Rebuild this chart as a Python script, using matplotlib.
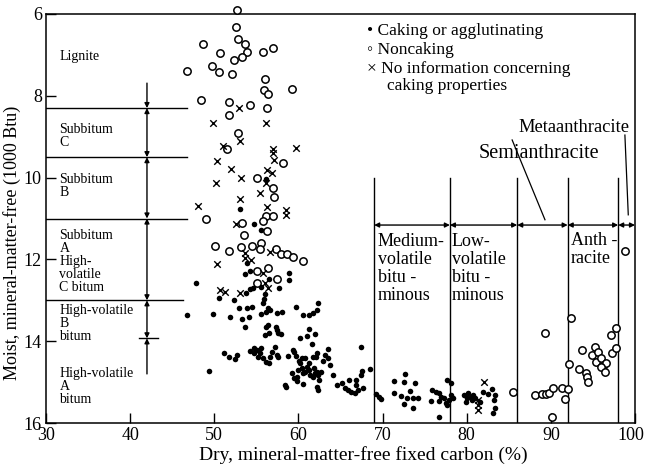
import matplotlib
matplotlib.use("Agg")
import matplotlib.pyplot as plt
from matplotlib.transforms import ScaledTranslation

plt.rcParams['font.family'] = ['Liberation Serif', 'DejaVu Serif', 'DejaVu Sans']

# ---------------- data ----------------
noncaking_x = [52.7, 52.6, 48.7, 52.8, 53.7, 50.7, 53.9, 53.3, 52.4, 55.8, 57.0, 46.8, 49.7, 50.6, 52.1,
               56.0, 55.9, 56.4, 59.2, 48.4, 51.8, 51.8, 54.2, 56.3, 52.8, 51.5, 58.2, 55.1, 57.0, 57.1,
               56.2, 57.0, 55.8, 49.0, 53.3, 53.5, 56.3, 50.1, 51.8, 53.2, 54.5, 55.5, 55.4, 57.3, 57.9,
               58.7, 59.4, 60.5, 55.1, 56.4, 57.5, 55.1,
               85.5, 88.1, 88.9, 89.4, 89.8, 90.3, 91.3, 92.0, 91.7, 90.1, 89.3, 92.4, 92.2, 93.7, 93.3,
               94.2, 94.3, 94.4, 95.2, 94.9, 95.6, 95.4, 95.9, 96.2, 96.5, 96.0, 96.4, 97.1, 97.8, 97.3,
               97.7, 98.8]
noncaking_y = [5.89, 6.33, 6.74, 6.62, 6.74, 6.96, 6.94, 7.04, 7.12, 6.94, 6.82, 7.39, 7.26, 7.41, 7.47,
               7.60, 7.86, 7.96, 7.84, 8.10, 8.16, 8.46, 8.23, 8.29, 8.92, 9.31, 9.64, 10.02, 10.26, 10.47,
               10.94, 10.94, 11.06, 11.02, 11.12, 11.40, 11.30, 11.67, 11.79, 11.69, 11.67, 11.61, 11.75, 11.74, 11.88,
               11.88, 11.94, 12.03, 12.28, 12.22, 12.49, 12.57,
               15.23, 15.32, 15.30, 15.30, 15.27, 15.15, 15.15, 15.18, 15.41, 15.85, 13.81, 13.44, 14.56, 14.22, 14.69,
               14.78, 14.88, 14.99, 14.15, 14.34, 14.26, 14.50, 14.42, 14.61, 14.53, 14.64, 14.75, 13.85, 13.68, 14.28,
               14.17, 11.79]

noinfo_x = [52.9, 49.8, 56.2, 53.0, 51.0, 57.0, 57.0, 57.1, 59.7, 50.3, 52.0, 53.2, 56.3, 56.8, 56.2,
            50.2, 55.4, 53.1, 48.1, 56.3, 58.5, 58.5, 52.6, 56.6, 53.7, 53.6, 54.4, 50.3, 55.8, 56.0,
            56.4, 50.7, 51.3, 53.1, 82.1, 81.3, 81.3, 81.3]
noinfo_y = [8.31, 8.67, 8.67, 9.10, 9.23, 9.31, 9.41, 9.57, 9.27, 9.59, 9.80, 10.00, 9.81, 9.89, 10.14,
            10.12, 10.37, 10.53, 10.69, 10.71, 10.79, 10.91, 11.13, 11.83, 11.85, 11.97, 12.01, 12.12, 12.33, 12.57,
            12.71, 12.75, 12.79, 12.83, 14.99, 15.44, 15.56, 15.68]

caking_x = [56.1, 53.0, 54.7, 55.6, 53.9, 54.3, 53.6, 58.9, 58.9, 47.8, 56.5, 55.6, 54.6, 54.3, 57.7,
            53.8, 50.6, 52.4, 56.0, 55.9, 55.8, 46.8, 49.9, 51.9, 52.9, 53.9, 54.5, 56.4, 56.6, 56.2,
            55.6, 57.4, 58.1, 59.7, 60.5, 61.2, 61.7, 62.2, 62.3, 53.3, 54.1, 53.6, 56.2, 56.4, 57.3,
            56.0, 56.5, 57.4, 57.6, 57.9, 60.2, 61.3, 61.0, 62.0, 61.6, 63.5, 51.1, 51.8, 52.5, 52.7,
            54.3, 54.7, 55.1, 55.4, 55.2, 55.8, 56.2, 56.5, 55.6, 54.7, 56.8, 57.4, 57.2, 57.6, 56.6,
            58.8, 59.5, 59.7, 59.4, 49.4, 60.1, 60.4, 60.8, 61.3, 61.7, 62.2, 62.1, 59.2, 59.5, 59.8,
            60.0, 60.4, 60.6, 60.8, 61.0, 61.3, 61.4, 61.7, 61.8, 62.2, 62.2, 60.5, 59.8, 58.5, 58.4,
            63.1, 62.9, 63.5, 63.8, 60.2, 62.0, 62.3, 62.7, 62.5, 62.3, 64.1, 64.6, 65.2, 65.5, 65.9,
            66.0, 66.3, 66.7, 67.1, 67.5, 67.4, 66.9, 66.9, 67.7, 68.5, 67.4,
            69.2, 69.6, 69.8, 71.3, 72.7, 72.6, 73.9, 71.4, 72.2, 73.3, 72.9, 73.6, 74.2, 72.6, 73.6,
            75.9, 76.3, 76.7, 76.9, 76.7, 75.8, 77.3, 77.5, 77.7, 77.9, 78.4, 78.1, 77.7, 78.1, 76.7,
            79.7, 79.9, 80.2, 80.0, 80.5, 80.8, 81.0, 80.6, 81.6, 81.9, 82.5, 83.0, 83.4, 83.3, 83.4, 83.1]
caking_y = [10.04, 10.77, 11.13, 11.28, 12.10, 12.28, 12.36, 12.33, 12.50, 12.58, 12.49, 12.67, 12.71, 12.72, 12.69,
            12.83, 12.94, 12.99, 12.85, 12.97, 13.07, 13.36, 13.34, 13.42, 13.18, 13.20, 13.17, 13.20, 13.24, 13.28,
            13.34, 13.32, 13.28, 13.16, 13.36, 13.36, 13.32, 13.24, 13.07, 13.46, 13.40, 13.65, 13.66, 13.60, 13.66,
            13.85, 13.81, 13.73, 13.81, 13.82, 13.93, 13.71, 13.87, 13.82, 14.07, 14.19, 14.28, 14.39, 14.44, 14.34,
            14.23, 14.17, 14.22, 14.30, 14.38, 14.42, 14.50, 14.53, 14.17, 14.30, 14.26, 14.34, 14.13, 14.39, 14.38,
            14.36, 14.26, 14.36, 14.22, 14.73, 14.48, 14.42, 14.42, 14.53, 14.39, 14.30, 14.38, 14.78, 14.91, 14.87,
            14.70, 14.66, 14.78, 14.75, 14.62, 14.70, 14.83, 14.87, 14.66, 14.75, 15.11, 15.05, 14.97, 15.11, 15.07,
            14.34, 14.48, 14.42, 14.57, 14.54, 14.78, 14.83, 14.75, 14.95, 15.19, 14.83, 15.07, 15.03, 15.15, 15.19,
            14.95, 15.23, 15.27, 15.19, 14.72, 14.83, 14.95, 15.07, 15.15, 14.69, 14.13,
            15.29, 15.36, 15.41, 14.97, 14.81, 14.99, 15.01, 15.26, 15.33, 15.22, 15.40, 15.40, 15.40, 15.54, 15.64,
            15.19, 15.23, 15.27, 15.36, 15.45, 15.45, 15.40, 15.50, 15.56, 15.44, 15.40, 15.32, 14.95, 15.03, 15.86,
            15.32, 15.48, 15.27, 15.40, 15.36, 15.32, 15.40, 15.44, 15.48, 15.23, 15.29, 15.18, 15.32, 15.44, 15.64, 15.75]

# rank boundaries
btu_bounds = [8.3, 9.5, 11.0, 13.0]          # horizontal rank lines (1000 Btu)
hva_bound = 13.93                             # hvB / hvA tick
fc_bounds = [69, 78, 86, 92, 98, 100]         # fixed-carbon boundaries (%)

left_labels = ["Lignite", "Subbitum\nC", "Subbitum\nB",
               "Subbitum\nA\nHigh-\nvolatile\nC bitum",
               "High-volatile\nB\nbitum", "High-volatile\nA\nbitum"]
left_label_y = [7.05, 8.98, 10.2, 12.04, 13.56, 15.1]

fc_labels = ["Medium-\nvolatile\nbitu -\nminous", "Low-\nvolatile\nbitu -\nminous", "Anth -\nracite"]
fc_label_x = [69.45, 78.25, 92.4]
fc_label_y = [12.22, 12.22, 11.76]

legend_lines = ["\u2022 Caking or agglutinating", "\u25e6 Noncaking",
                "\u00d7 No information concerning", "caking properties"]

xticks = [30, 40, 50, 60, 70, 80, 90, 100]
yticks = [6, 8, 10, 12, 14, 16]

# ---------------- figure ----------------
fig = plt.figure(figsize=(6.45, 4.65), dpi=100)
ax = fig.add_axes([46 / 645, 42 / 465, 589 / 645, 409 / 465])
ax.set_xlim(30, 100)
ax.set_ylim(16, 6)

ax.scatter(caking_x, caking_y, s=16, c='black', marker='o', linewidths=0, clip_on=False, zorder=3)
ax.scatter(noncaking_x, noncaking_y, s=28, facecolors='white', edgecolors='black',
           marker='o', linewidths=1.1, clip_on=False, zorder=3)
ax.scatter(noinfo_x, noinfo_y, s=22, c='black', marker='x', linewidths=1.0, clip_on=False, zorder=3)

# horizontal rank lines on left
for i, b in enumerate(btu_bounds):
    ax.plot([30, 46.8 if i < 3 else 46.3], [b, b], color='black', lw=1.0)

# vertical arrows on left
arr = dict(arrowstyle='<|-|>', color='black', lw=1.0, mutation_scale=7, shrinkA=0, shrinkB=0)
arr1 = dict(arrowstyle='-|>', color='black', lw=1.0, mutation_scale=7, shrinkA=0, shrinkB=0)
xa = 42.0
ax.annotate('', xy=(xa, btu_bounds[0]), xytext=(xa, 7.69), arrowprops=arr1)
seg = btu_bounds + [hva_bound]
for a, b in zip(seg[:-1], seg[1:]):
    ax.annotate('', xy=(xa, b), xytext=(xa, a), arrowprops=arr)
ax.plot([41.1, 43.3], [hva_bound, hva_bound], color='black', lw=1.0)
ax.annotate('', xy=(xa, hva_bound), xytext=(xa, 14.8), arrowprops=arr1)

for t, yy in zip(left_labels, left_label_y):
    ax.text(31.6, yy, t, fontsize=10, ha='left', va='center', linespacing=1.0)

# vertical fixed-carbon lines
for b in fc_bounds[:-1]:
    ax.plot([b, b], [10.0, 16], color='black', lw=1.0)
for a, b in zip(fc_bounds[:-1], fc_bounds[1:]):
    ax.annotate('', xy=(b, 11.16), xytext=(a, 11.16), arrowprops=arr)

for t, xx, yy in zip(fc_labels, fc_label_x, fc_label_y):
    ax.text(xx, yy, t, fontsize=13, ha='left', va='center', linespacing=1.08)

# pointers
ax.plot([85.4, 89.3], [9.08, 11.03], color='black', lw=0.9)
ax.text(88.6, 9.52, "Semianthracite", fontsize=14.5, ha='center', va='baseline')
ax.plot([98.8, 99.2], [8.96, 10.91], color='black', lw=0.9)
ax.text(99.3, 8.88, "Metaanthracite", fontsize=13.3, ha='right', va='baseline')

# legend (text)
leg_x = [68.1, 68.1, 68.1, 70.5]
leg_y = [6.51, 6.98, 7.44, 7.86]
for t, xx, yy in zip(legend_lines, leg_x, leg_y):
    ax.text(xx, yy, t, fontsize=12.5, ha='left', va='baseline',
            family=['Liberation Serif', 'DejaVu Sans'])

ax.set_xticks(xticks)
ax.set_yticks(yticks)
ax.tick_params(direction='in', length=7, width=1.0, labelsize=13, top=False, right=False, pad=3)
for s in ax.spines.values():
    s.set_linewidth(1.1)
lbl = ax.get_xticklabels()[-1]
lbl.set_transform(lbl.get_transform() + ScaledTranslation(-0.04, 0, fig.dpi_scale_trans))

ax.set_xlabel("Dry, mineral-matter-free fixed carbon (%)", fontsize=14)
ax.set_ylabel("Moist, mineral-matter-free (1000 Btu)", fontsize=13)
ax.xaxis.set_label_coords(0.538, -0.056)
ax.yaxis.set_label_coords(-0.042, 0.44)

fig.savefig("out.png", dpi=100)
